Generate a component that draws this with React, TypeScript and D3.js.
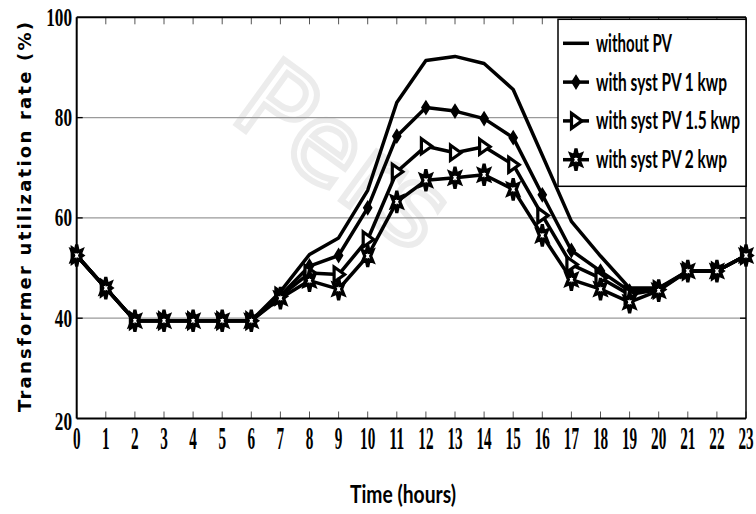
import React from "react";
import * as d3 from "d3";

const hours = [0, 1, 2, 3, 4, 5, 6, 7, 8, 9, 10, 11, 12, 13, 14, 15, 16, 17, 18, 19, 20, 21, 22, 23];
const withoutPV = [52.5, 46, 39.5, 39.5, 39.5, 39.5, 39.5, 45.3, 52.7, 56, 65.5, 83, 91.4, 92.2, 90.8, 85.6, 72.5, 59.3, 52.4, 46, 46, 49.4, 49.4, 52.5];
const pv1 = [52.5, 46, 39.5, 39.5, 39.5, 39.5, 39.5, 44.5, 50.4, 52.5, 62, 76.3, 82, 81.3, 79.8, 76, 64.6, 53.5, 49.4, 45.4, 45.8, 49.4, 49.4, 52.5];
const pv15 = [52.5, 46, 39.5, 39.5, 39.5, 39.5, 39.5, 44.4, 49, 48.7, 55.7, 69.2, 74.3, 73, 74.2, 70.6, 60.5, 50.7, 48, 44.7, 45.7, 49.4, 49.4, 52.5];
const pv2 = [52.5, 46, 39.5, 39.5, 39.5, 39.5, 39.5, 44, 47.5, 45.8, 52.4, 63.2, 67.5, 68, 68.6, 65.7, 56.5, 47.7, 45.8, 43.2, 45.5, 49.4, 49.4, 52.5];
const yTicks = [20, 40, 60, 80, 100];
const gridValues = [40, 60, 80];
const seriesNames = ["without PV", "with syst PV 1 kwp", "with syst PV 1.5 kwp", "with syst PV 2 kwp"];
const legendWidths = [76, 131, 144, 131];

type MarkerKind = "none" | "diamond" | "triangle" | "hexagram";

function markerPath(kind: MarkerKind): string {
  if (kind === "diamond") return "M0,-6.5L4,0L0,6.5L-4,0Z";
  if (kind === "triangle") return "M-4.5,-7.5L6,0L-4.5,7.5Z";
  if (kind === "hexagram") {
    const pts: string[] = [];
    for (let k = 0; k < 12; k++) {
      const a = -Math.PI / 2 + (k * Math.PI) / 6;
      const outer = k % 2 === 0;
      const rx = outer ? 6 : 3;
      const ry = outer ? 11 : 4.5;
      pts.push(`${(rx * Math.cos(a)).toFixed(2)},${(ry * Math.sin(a)).toFixed(2)}`);
    }
    return "M" + pts.join("L") + "Z";
  }
  return "";
}

function Marker({ kind, cx, cy }: { kind: MarkerKind; cx: number; cy: number }) {
  if (kind === "none") return null;
  const filled = kind === "diamond";
  return (
    <path
      d={markerPath(kind)}
      transform={`translate(${cx},${cy})`}
      fill={filled ? "#000" : "#fff"}
      stroke="#000"
      strokeWidth={filled ? 1.5 : 3.2}
      strokeLinejoin="miter"
    />
  );
}

export default function App() {
  const W = 756;
  const H = 514;
  const x = d3.scaleLinear().domain([0, 23]).range([76.7, 746]);
  const y = d3.scaleLinear().domain([20, 100]).range([418.5, 17.3]);
  const series: { name: string; values: number[]; marker: MarkerKind }[] = [
    { name: seriesNames[0], values: withoutPV, marker: "none" },
    { name: seriesNames[1], values: pv1, marker: "diamond" },
    { name: seriesNames[2], values: pv15, marker: "triangle" },
    { name: seriesNames[3], values: pv2, marker: "hexagram" },
  ];
  const line = d3
    .line<number>()
    .x((_, i) => x(hours[i]))
    .y((d) => y(d));

  const [x0, x1] = x.range();
  const [yb, yt] = y.range();

  const legX = 558;
  const legY = 19.3;
  const legW = x1 - legX;
  const legH = 167;
  const rowY = (i: number) => 43.3 + i * 38.8;

  return (
    <svg
      width={W}
      height={H}
      viewBox={`0 0 ${W} ${H}`}
      style={{ position: "absolute", left: 0, top: 0, background: "#fff" }}
    >
      <rect x={0} y={0} width={W} height={H} fill="#fff" />

      {/* faint watermark */}
      <text
        x={228}
        y={118}
        transform="rotate(36 228 118)"
        fontFamily="DejaVu Sans, sans-serif"
        fontSize={110}
        fill="none"
        stroke="#ececec"
        strokeWidth={6}
      >
        Pers
      </text>

      {/* grid */}
      {gridValues.map((g) => (
        <line key={g} x1={x0} x2={x1} y1={y(g)} y2={y(g)} stroke="#9a9a9a" strokeWidth={1.3} />
      ))}

      {/* ticks bottom & top */}
      {hours.map((h) => (
        <g key={h}>
          <line x1={x(h)} x2={x(h)} y1={yb} y2={yb - 7} stroke="#555" strokeWidth={1} />
          <line x1={x(h)} x2={x(h)} y1={yt} y2={yt + 7} stroke="#555" strokeWidth={1} />
        </g>
      ))}
      {gridValues.map((g) => (
        <g key={"t" + g}>
          <line x1={x0} x2={x0 + 6} y1={y(g)} y2={y(g)} stroke="#000" strokeWidth={1.3} />
          <line x1={x1} x2={x1 - 6} y1={y(g)} y2={y(g)} stroke="#000" strokeWidth={1.3} />
        </g>
      ))}

      {/* frame */}
      <line x1={x0} x2={x1} y1={yt} y2={yt} stroke="#000" strokeWidth={2} />
      <line x1={x1} x2={x1} y1={yt} y2={yb} stroke="#000" strokeWidth={1.5} />
      <line x1={x0} x2={x1} y1={yb} y2={yb} stroke="#000" strokeWidth={2} />
      <line x1={x0} x2={x0} y1={yt} y2={yb} stroke="#000" strokeWidth={2} />

      {/* lines */}
      {series.map((s) => (
        <path
          key={s.name}
          d={line(s.values) || ""}
          fill="none"
          stroke="#000"
          strokeWidth={3.5}
          strokeLinejoin="round"
        />
      ))}
      {series.map((s) =>
        s.values.map((v, i) => (
          <Marker key={s.name + i} kind={s.marker} cx={x(hours[i])} cy={y(v)} />
        ))
      )}

      {/* x tick labels */}
      {hours.map((h) => (
        <text
          key={"xl" + h}
          x={x(h)}
          y={449}
          textAnchor="middle"
          fontFamily="Liberation Serif, Times New Roman, serif"
          fontWeight="bold"
          fontSize={31}
          textLength={String(h).length * 7.6}
          lengthAdjust="spacingAndGlyphs"
        >
          {h}
        </text>
      ))}

      {/* y tick labels */}
      {yTicks.map((t) => (
        <text
          key={"yl" + t}
          x={72}
          y={(t === 20 ? y(t) + 3 : y(t)) + 8.5}
          textAnchor="end"
          fontFamily="Liberation Serif, Times New Roman, serif"
          fontWeight="bold"
          fontSize={26}
          textLength={String(t).length * 8.6}
          lengthAdjust="spacingAndGlyphs"
        >
          {t}
        </text>
      ))}

      {/* axis titles */}
      <text
        x={403}
        y={503}
        textAnchor="middle"
        fontFamily="Lato, Open Sans, sans-serif"
        fontWeight="bold"
        fontSize={24}
        textLength={106}
        lengthAdjust="spacingAndGlyphs"
      >
        Time (hours)
      </text>
      <text
        transform="translate(31,217) rotate(-90)"
        textAnchor="middle"
        fontFamily="DejaVu Sans, sans-serif"
        fontWeight="bold"
        fontSize={18}
        textLength={390}
        lengthAdjust="spacing"
      >
        Transformer utilization rate (%)
      </text>

      {/* legend */}
      <rect x={legX} y={legY} width={legW} height={legH} fill="#fff" stroke="#000" strokeWidth={1.5} />
      {series.map((s, i) => (
        <g key={"lg" + i}>
          <line x1={563} x2={589} y1={rowY(i)} y2={rowY(i)} stroke="#000" strokeWidth={3.5} />
          <Marker kind={s.marker} cx={576} cy={rowY(i)} />
          <text
            x={596}
            y={rowY(i) + 8.5}
            fontFamily="Lato, Open Sans, sans-serif"
            fontWeight="bold"
            fontSize={24}
            textLength={legendWidths[i]}
            lengthAdjust="spacingAndGlyphs"
          >
            {s.name}
          </text>
        </g>
      ))}
    </svg>
  );
}
